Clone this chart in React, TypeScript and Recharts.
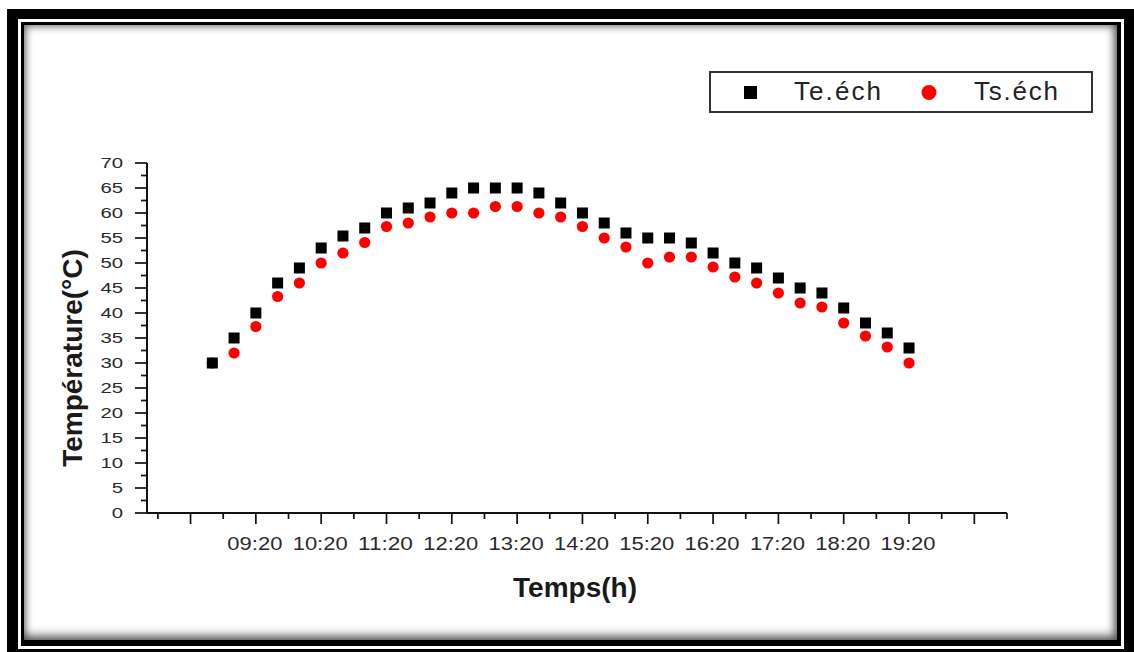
import React from 'react';
import { ScatterChart, Scatter, XAxis, YAxis } from 'recharts';

// ---- data ----
const timeLabels = [
  '08:40', '09:00', '09:20', '09:40', '10:00', '10:20', '10:40', '11:00', '11:20', '11:40', '12:00',
  '12:20', '12:40', '13:00', '13:20', '13:40', '14:00', '14:20', '14:40', '15:00', '15:20', '15:40',
  '16:00', '16:20', '16:40', '17:00', '17:20', '17:40', '18:00', '18:20', '18:40', '19:00', '19:20',
];
const teValues = [
  30, 35, 40, 46, 49, 53, 55.4, 57, 60, 61, 62,
  64, 65, 65, 65, 64, 62, 60, 58, 56, 55, 55,
  54, 52, 50, 49, 47, 45, 44, 41, 38, 36, 33,
];
const tsValues = [
  30, 32, 37.3, 43.3, 46, 50, 52, 54.1, 57.3, 58, 59.2,
  60, 60, 61.3, 61.3, 60, 59.2, 57.3, 55, 53.2, 50, 51.2,
  51.2, 49.2, 47.2, 46, 44, 42, 41.2, 38, 35.4, 33.2, 30,
];
const xDomain = ['07:40', '20:50'];
const xMajorTicks = ['08:20', '09:20', '10:20', '11:20', '12:20', '13:20', '14:20', '15:20', '16:20', '17:20', '18:20', '19:20', '20:20'];
const xMinorTicks = ['07:50', '08:50', '09:50', '10:50', '11:50', '12:50', '13:50', '14:50', '15:50', '16:50', '17:50', '18:50', '19:50', '20:50'];
const xTickLabels = ['09:20', '10:20', '11:20', '12:20', '13:20', '14:20', '15:20', '16:20', '17:20', '18:20', '19:20'];
const yMajorTicks = [0, 5, 10, 15, 20, 25, 30, 35, 40, 45, 50, 55, 60, 65, 70];
const yMinorTicks = [2.5, 7.5, 12.5, 17.5, 22.5, 27.5, 32.5, 37.5, 42.5, 47.5, 52.5, 57.5, 62.5, 67.5];
const seriesNames = ['Te.éch', 'Ts.éch'];

// ---- helpers ----
const toMin = (s: string) => {
  const [h, m] = s.split(':').map(Number);
  return h * 60 + m;
};
const toStr = (v: number) => {
  const h = Math.floor(v / 60);
  const m = v % 60;
  return `${String(h).padStart(2, '0')}:${String(m).padStart(2, '0')}`;
};

const teData = timeLabels.map((t, i) => ({ t: toMin(t), v: teValues[i] }));
const tsData = timeLabels.map((t, i) => ({ t: toMin(t), v: tsValues[i] }));
const majorMins = xMajorTicks.map(toMin);
const allXTicks = [...xMinorTicks.map(toMin), ...majorMins].sort((a, b) => a - b);
const allYTicks = [...yMajorTicks, ...yMinorTicks].sort((a, b) => a - b);

const FONT = "'Liberation Sans', Arial, sans-serif";

const XTick = (props: any) => {
  const { x, y, payload } = props;
  const v = payload.value as number;
  const isMajor = majorMins.includes(v);
  const label = toStr(v);
  const show = isMajor && xTickLabels.includes(label);
  return (
    <g>
      <line x1={x} x2={x} y1={y} y2={y + (isMajor ? 11 : 6)} stroke="#111" strokeWidth={1.7} />
      {show && (
        <text
          x={x - 1}
          y={y + 37}
          textAnchor="middle"
          fontSize={18.5}
          fontFamily={FONT}
          fill="#2a2a2a"
          textLength={55}
          lengthAdjust="spacingAndGlyphs"
        >
          {label}
        </text>
      )}
    </g>
  );
};

const YTick = (props: any) => {
  const { x, y, payload } = props;
  const v = payload.value as number;
  const isMajor = yMajorTicks.includes(v);
  const label = String(v);
  return (
    <g>
      <line x1={x - (isMajor ? 12 : 6)} x2={x} y1={y} y2={y} stroke="#111" strokeWidth={1.7} />
      {isMajor && (
        <text
          x={x - 24}
          y={y + 5}
          textAnchor="end"
          fontSize={15.5}
          fontFamily={FONT}
          fill="#2a2a2a"
          textLength={label.length * 11.3}
          lengthAdjust="spacingAndGlyphs"
        >
          {label}
        </text>
      )}
    </g>
  );
};

const SquareShape = (props: any) => {
  const { cx, cy } = props;
  return <rect x={cx - 5.5} y={cy - 5.5} width={11} height={11} fill="#000" />;
};
const CircleShape = (props: any) => {
  const { cx, cy } = props;
  return <circle cx={cx} cy={cy} r={5.6} fill="#ff0000" />;
};

export default function App() {
  return (
    <div style={{ position: 'absolute', left: 0, top: 0, width: 1134, height: 652, overflow: 'hidden', background: '#fff' }}>
      {/* outer frame */}
      <div style={{ position: 'absolute', left: 7, top: 9, width: 1140, height: 660, background: '#000' }} />
      <div
        style={{
          position: 'absolute',
          left: 18,
          top: 19,
          width: 1106,
          height: 630,
          boxSizing: 'border-box',
          border: '3px solid #fff',
          background: '#000',
        }}
      />
      <div
        style={{
          position: 'absolute',
          left: 24,
          top: 25,
          width: 1093,
          height: 615,
          background: '#fff',
          boxShadow: 'inset 0 0 9px 1px rgba(0,0,0,0.6), inset -3px -6px 10px rgba(0,0,0,0.35)',
        }}
      />
      {/* chart */}
      <div style={{ position: 'absolute', left: 0, top: 0 }}>
        <ScatterChart width={1134} height={652} margin={{ top: 163, right: 127, bottom: 79, left: 87 }}>
          <XAxis
            type="number"
            dataKey="t"
            domain={[toMin(xDomain[0]), toMin(xDomain[1])]}
            ticks={allXTicks}
            interval={0}
            height={60}
            tickSize={0}
            tickMargin={0}
            tickLine={false}
            axisLine={{ stroke: '#111', strokeWidth: 2 }}
            tick={(p: any) => <XTick {...p} />}
            allowDataOverflow
          />
          <YAxis
            type="number"
            dataKey="v"
            domain={[0, 70]}
            ticks={allYTicks}
            interval={0}
            width={60}
            tickSize={0}
            tickMargin={0}
            tickLine={false}
            axisLine={{ stroke: '#111', strokeWidth: 2 }}
            tick={(p: any) => <YTick {...p} />}
            allowDataOverflow
          />
          <Scatter name={seriesNames[1]} data={tsData} shape={(p: any) => <CircleShape {...p} />} isAnimationActive={false} />
          <Scatter name={seriesNames[0]} data={teData} shape={(p: any) => <SquareShape {...p} />} isAnimationActive={false} />
        </ScatterChart>
      </div>
      {/* axis titles */}
      <svg style={{ position: 'absolute', left: 0, top: 0, pointerEvents: 'none' }} width={1134} height={652}>
        <text x={575} y={597} textAnchor="middle" fontSize={28} fontWeight="bold" fontFamily={FONT} fill="#1a1a1a">
          Temps(h)
        </text>
        <text
          x={82}
          y={358}
          textAnchor="middle"
          fontSize={28}
          fontWeight="bold"
          fontFamily={FONT}
          fill="#1a1a1a"
          transform="rotate(-90, 82, 358)"
        >
          Température(°C)
        </text>
      </svg>
      {/* legend */}
      <div
        style={{
          position: 'absolute',
          left: 709,
          top: 71,
          width: 384,
          height: 42,
          boxSizing: 'border-box',
          border: '2px solid #333',
          background: '#fff',
        }}
      >
        <svg width={380} height={38} style={{ position: 'absolute', left: 0, top: 0 }}>
          <rect x={33} y={13} width={13} height={13} fill="#000" />
          <text x={83} y={27} fontSize={26} fontFamily={FONT} fill="#222" textLength={87} lengthAdjust="spacing">
            {seriesNames[0]}
          </text>
          <circle cx={218} cy={19.5} r={7.5} fill="#ff0000" />
          <text x={263} y={27} fontSize={26} fontFamily={FONT} fill="#222" textLength={84} lengthAdjust="spacing">
            {seriesNames[1]}
          </text>
        </svg>
      </div>
    </div>
  );
}
